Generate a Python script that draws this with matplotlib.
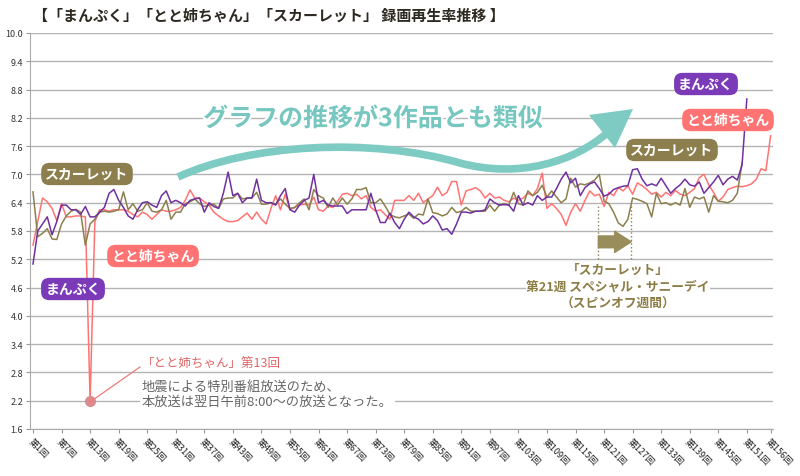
import numpy as np
import matplotlib
matplotlib.use('Agg')
import matplotlib.pyplot as plt
import matplotlib.patheffects as pe
from matplotlib.path import Path
from matplotlib.patches import PathPatch, Polygon
from matplotlib.transforms import Affine2D

plt.rcParams['font.family'] = ['Noto Sans CJK JP', 'DejaVu Sans']

# 録画再生率 (%) per episode
manpuku = [
    5.10, 5.80, 5.95, 6.10, 5.72, 6.00, 6.35, 6.35, 6.25, 6.25,
    6.15, 6.32, 6.10, 6.10, 6.20, 6.30, 6.60, 6.68, 6.45, 6.30,
    6.12, 6.05, 6.25, 6.40, 6.42, 6.35, 6.30, 6.55, 6.65, 6.40,
    6.45, 6.40, 6.33, 6.45, 6.48, 6.50, 6.20, 6.40, 6.32, 6.28,
    6.60, 7.05, 6.55, 6.60, 6.40, 6.50, 6.50, 6.90, 6.45, 6.40,
    6.40, 6.35, 6.55, 6.70, 6.25, 6.20, 6.35, 6.45, 6.50, 7.00,
    6.40, 6.45, 6.35, 6.33, 6.33, 6.33, 6.17, 6.25, 6.25, 6.25,
    6.25, 6.60, 6.25, 5.98, 5.98, 6.18, 5.98, 5.85, 6.05, 6.20,
    6.10, 6.05, 5.95, 6.00, 6.12, 6.02, 5.82, 5.85, 5.73, 5.95,
    6.20, 6.20, 6.18, 6.22, 6.22, 6.25, 6.48, 6.40, 6.35, 6.36,
    6.35, 6.22, 6.55, 6.35, 6.40, 6.35, 6.55, 6.45, 6.52, 6.52,
    6.70, 6.90, 7.05, 6.82, 6.92, 6.55, 6.72, 6.80, 6.84, 6.70,
    6.54, 6.58, 6.68, 6.72, 6.75, 6.76, 7.10, 7.12, 6.90, 6.76,
    6.80, 6.76, 6.92, 6.76, 6.60, 6.70, 6.78, 6.90, 6.78, 6.75,
    6.84, 6.60, 6.72, 6.84, 6.98, 6.78, 6.90, 6.96, 6.88, 7.20,
    8.60,
]

toto = [
    5.50, 6.00, 6.50, 6.42, 6.28, 6.02, 6.38, 6.10, 6.10, 6.12,
    6.12, 6.10, 2.20, 6.00, 6.25, 6.25, 6.22, 6.25, 6.25, 6.25,
    6.22, 6.15, 6.10, 6.20, 6.15, 6.05, 6.15, 6.25, 6.22, 6.22,
    6.25, 6.30, 6.45, 6.67, 6.50, 6.50, 6.42, 6.35, 6.20, 6.12,
    6.05, 6.00, 6.00, 6.02, 6.10, 6.18, 6.05, 6.20, 6.05, 5.95,
    6.28, 6.55, 6.25, 6.58, 6.25, 6.30, 6.35, 6.37, 6.35, 6.52,
    6.25, 6.22, 6.33, 6.30, 6.43, 6.58, 6.60, 6.55, 6.58, 6.48,
    6.55, 6.30, 6.22, 6.25, 6.15, 6.05, 6.45, 6.45, 6.45, 6.55,
    6.45, 6.60, 6.40, 6.48, 6.55, 6.73, 6.55, 6.62, 6.85, 6.85,
    6.35, 6.65, 6.68, 6.72, 6.65, 6.50, 6.60, 6.50, 6.52, 6.45,
    6.42, 6.50, 6.45, 6.50, 6.60, 6.55, 6.70, 7.03, 6.28, 6.38,
    6.28, 6.15, 5.92, 6.20, 6.38, 6.22, 6.45, 6.65, 6.55, 6.58,
    6.32, 6.62, 6.55, 6.72, 6.65, 6.76, 6.58, 6.82, 6.76, 6.68,
    6.58, 6.62, 6.52, 6.62, 6.55, 6.66, 6.58, 6.55, 6.62, 6.70,
    6.93, 7.00, 6.78, 6.62, 6.43, 6.52, 6.68, 6.72, 6.75, 6.74,
    6.76, 6.80, 6.90, 7.12, 7.08, 7.82,
]

scarlet = [
    6.63, 5.68, 5.75, 5.85, 5.63, 5.62, 5.95, 6.12, 6.22, 6.26,
    6.20, 5.50, 5.95, 6.05, 6.20, 6.22, 6.20, 6.22, 6.25, 6.63,
    6.25, 6.38, 6.22, 6.25, 6.40, 6.22, 6.20, 6.25, 6.45, 6.05,
    6.20, 6.20, 6.38, 6.42, 6.48, 6.38, 6.32, 6.35, 6.37, 6.28,
    6.48, 6.50, 6.50, 6.60, 6.48, 6.50, 6.50, 6.62, 6.37, 6.37,
    6.40, 6.37, 6.48, 6.37, 6.28, 6.30, 6.40, 6.48, 6.25, 6.68,
    6.55, 6.50, 6.30, 6.50, 6.35, 6.50, 6.37, 6.48, 6.68, 6.68,
    6.72, 6.40, 6.40, 6.48, 6.33, 6.15, 6.10, 6.08, 6.12, 6.16,
    6.07, 6.16, 6.14, 6.48, 6.19, 6.17, 6.12, 6.16, 6.30, 6.19,
    6.22, 6.30, 6.22, 6.22, 6.22, 6.22, 6.35, 6.22, 6.35, 6.38,
    6.35, 6.62, 6.38, 6.35, 6.65, 6.55, 6.62, 6.77, 6.52, 6.65,
    6.52, 6.40, 6.48, 6.92, 6.73, 6.80, 6.78, 6.82, 6.88, 7.00,
    6.43, 6.38, 6.20, 5.97, 5.90, 6.05, 6.50, 6.47, 6.43, 6.38,
    6.10, 6.60, 6.38, 6.40, 6.35, 6.40, 6.35, 6.70, 6.30, 6.52,
    6.48, 6.52, 6.20, 6.55, 6.43, 6.42, 6.40, 6.45, 6.60, 7.25,
]

tick_eps = [1, 7, 13, 19, 25, 31, 37, 43, 49, 55, 61, 67, 73, 79, 85, 91,
            97, 103, 109, 115, 121, 127, 133, 139, 145, 151, 156]
tick_labels = [f'第{n}回' for n in tick_eps]
y_ticks = np.round(np.arange(1.6, 10.01, 0.6), 1)

PURPLE = '#7030a0'
PINK = '#ff7373'
OLIVE = '#8c7f4d'
TEAL = '#7ecbc4'

fig = plt.figure(figsize=(8, 4.77), dpi=100)
ax = fig.add_axes([30 / 800, 1 - 430 / 477, 743 / 800, 396 / 477])
# pixel coords (origin top-left) for the free-floating decorations
px = Affine2D().scale(1 / 800, -1 / 477).translate(0, 1) + fig.transFigure

ax.plot(np.arange(1, len(toto) + 1), toto, color=PINK, lw=1.1, zorder=3)
ax.plot(np.arange(1, len(scarlet) + 1), scarlet, color=OLIVE, lw=1.1, zorder=4)
ax.plot(np.arange(1, len(manpuku) + 1), manpuku, color=PURPLE, lw=1.1, zorder=5)

ax.set_xlim(0.37, 156.5)
ax.set_ylim(1.6, 10.0)
ax.set_yticks(y_ticks)
ax.set_yticklabels([f'{v:.1f}' for v in y_ticks], fontsize=6.5, color='#333333')
ax.set_xticks(tick_eps)
ax.set_xticklabels(tick_labels, fontsize=6.5, rotation=-45, ha='left',
                   va='top', rotation_mode='anchor', color='#222222')
ax.tick_params(axis='both', length=3, color='#999999', width=0.8, pad=2)
ax.grid(axis='y', color='#b4b4b4', lw=1.0, zorder=0)
for s in ['top', 'right']:
    ax.spines[s].set_visible(False)
for s in ['left', 'bottom']:
    ax.spines[s].set_color('#aaaaaa')

fig.text(33 / 800, 1 - 16 / 477,
         '【「まんぷく」「とと姉ちゃん」「スカーレット」 録画再生率推移 】',
         fontsize=10.8, fontweight='bold', color='#2e2a22', va='center')

# series labels
def label(x, y, s, c):
    fig.text(x, y, s, transform=px, ha='center', va='center', fontsize=10,
             fontweight='bold', color='white', zorder=10,
             bbox=dict(boxstyle='round,pad=0.3,rounding_size=0.6', fc=c, ec='none'))

label(87, 175, 'スカーレット', OLIVE)
label(153, 257, 'とと姉ちゃん', PINK)
label(73, 290, 'まんぷく', '#7b3bb8')
label(706, 85, 'まんぷく', '#7b3bb8')
label(728, 121, 'とと姉ちゃん', PINK)
label(672, 151, 'スカーレット', OLIVE)

# teal wave arrow
verts = [(178, 178), (250, 145), (370, 138), (460, 164),
         (520, 180), (575, 162), (607, 134)]
codes = [Path.MOVETO, Path.CURVE4, Path.CURVE4, Path.CURVE4,
         Path.CURVE4, Path.CURVE4, Path.CURVE4]
fig.add_artist(PathPatch(Path(verts, codes), transform=px, fc='none',
                         ec=TEAL, lw=5.5, capstyle='butt'))
fig.add_artist(Polygon([(633, 110), (589, 116), (615, 149)], closed=True,
                       transform=px, fc=TEAL, ec='none'))
fig.text(373, 120, 'グラフの推移が3作品とも類似', transform=px, ha='center',
         va='center', fontsize=18, fontweight='bold', color='#76c7bf',
         path_effects=[pe.withStroke(linewidth=3, foreground='white')])

# スカーレット spin-off week
ax.vlines([119.8, 126.6], 5.2, 6.35, colors=OLIVE, linestyles=':', lw=1.0, zorder=6)
ax.annotate('', xy=(126.7, 5.57), xytext=(119.8, 5.57),
            arrowprops=dict(arrowstyle='simple,head_length=0.7,head_width=0.9,tail_width=0.5',
                            color='#9a8d5c', mutation_scale=17, shrinkA=0, shrinkB=0),
            zorder=6)
for yy, s in [(270, '「スカーレット」'), (287, '第21週 スペシャル・サニーデイ'),
              (304, '（スピンオフ週間）')]:
    fig.text(618, yy, s, transform=px, ha='center', va='center', fontsize=9.2,
             fontweight='bold', color='#8c7d45',
             bbox=dict(fc='white', ec='none', pad=0.5))

# とと姉ちゃん 第13回 note
ax.plot([13], [toto[12]], 'o', color='#dc8c8e', ms=7, zorder=7)
fig.add_artist(plt.Line2D([90, 140], [403, 368], transform=px, color='#f07a7a', lw=0.9))
fig.text(142, 364, '「とと姉ちゃん」第13回', transform=px, va='center',
         fontsize=9, color='#e06666', bbox=dict(fc='white', ec='none', pad=1))
fig.text(142, 395, '地震による特別番組放送のため、\n本放送は翌日午前8:00〜の放送となった。',
         transform=px, va='center', fontsize=9.5, color='#666666', linespacing=1.25,
         bbox=dict(fc='white', ec='none', pad=1.5))

fig.savefig('out.png', dpi=100)
